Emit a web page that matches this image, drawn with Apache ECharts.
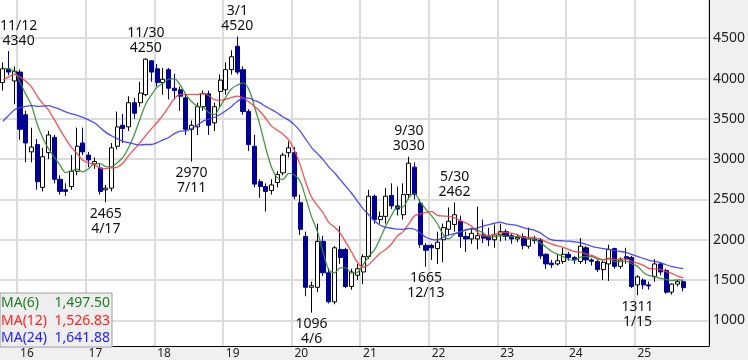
<!DOCTYPE html>
<html><head><meta charset="utf-8">
<script src="https://cdn.jsdelivr.net/npm/echarts@6/dist/echarts.min.js"></script>
<style>html,body{margin:0;padding:0;background:#f0f0f0}#c{width:748px;height:360px}</style>
</head><body><div id="c"></div>
<script>
// ---- data ----
const categories = [
'2015-10','2015-11','2015-12',
'2016-01','2016-02','2016-03','2016-04','2016-05','2016-06','2016-07','2016-08','2016-09','2016-10','2016-11','2016-12',
'2017-01','2017-02','2017-03','2017-04','2017-05','2017-06','2017-07','2017-08','2017-09','2017-10','2017-11','2017-12',
'2018-01','2018-02','2018-03','2018-04','2018-05','2018-06','2018-07','2018-08','2018-09','2018-10','2018-11','2018-12',
'2019-01','2019-02','2019-03','2019-04','2019-05','2019-06','2019-07','2019-08','2019-09','2019-10','2019-11','2019-12',
'2020-01','2020-02','2020-03','2020-04','2020-05','2020-06','2020-07','2020-08','2020-09','2020-10','2020-11','2020-12',
'2021-01','2021-02','2021-03','2021-04','2021-05','2021-06','2021-07','2021-08','2021-09','2021-10','2021-11','2021-12',
'2022-01','2022-02','2022-03','2022-04','2022-05','2022-06','2022-07','2022-08','2022-09','2022-10','2022-11','2022-12',
'2023-01','2023-02','2023-03','2023-04','2023-05','2023-06','2023-07','2023-08','2023-09','2023-10','2023-11','2023-12',
'2024-01','2024-02','2024-03','2024-04','2024-05','2024-06','2024-07','2024-08','2024-09','2024-10','2024-11','2024-12',
'2025-01','2025-02','2025-03','2025-04','2025-05','2025-06','2025-07','2025-08','2025-09','2025-10','2025-11','2025-12',
'2026-01'];
const yearLabels = ['16','17','18','19','20','21','22','23','24','25'];

// monthly closes before the first visible month (MA warm-up)
const preCloses = [2350,2460,2700,2800,2900,2950,3000,3150,3250,3200,3350,3410,
                   3600,3700,3750,3850,3980,4100,4150,4250,4200,4080,3980];

const opens = [3950,4120,3970,4080,3550,3090,3180,2650,3080,3270,
2750,2620,2660,2850,3200,3050,2940,2890,2620,2640,
3160,3420,3400,3700,3700,3800,4220,4120,3950,4110,
3880,3860,3760,3370,3400,3650,3810,3450,3840,3860,
4110,4400,4110,3590,3160,2720,2660,2610,2710,2830,
3080,3080,2460,2040,1410,1410,1980,1590,1230,1880,
1880,1420,1560,1600,1790,2540,2250,2290,2550,2420,
2310,2560,2900,2450,1930,1930,1890,2000,2130,2190,
2230,2040,2010,2010,2060,2040,2000,2060,2100,2050,
2010,2040,1920,2010,2000,1820,1710,1700,1730,1820,
1780,1730,1900,1750,1730,1630,1700,1890,1670,1790,
1780,1440,1500,1440,1540,1700,1620,1350,1450,1480];

const closes = [4120,4080,4090,3370,3200,3150,2720,3030,3300,2750,
2600,2600,2850,3160,3090,2990,2970,2600,2640,3140,
3400,3380,3700,3570,3820,4240,4080,3950,3990,3880,
3850,3780,3370,3420,3650,3810,3420,3650,3980,4110,
4270,4080,3590,3180,2690,2660,2600,2680,2810,3050,
3140,2540,2130,1410,1430,1980,1590,1230,1900,1780,
1420,1600,1640,1790,2540,2250,2290,2540,2420,2380,
2560,2950,2560,1940,1870,1900,1970,2150,2230,2310,
2040,2010,2080,2050,2020,2000,2060,2100,2040,2010,
2030,1930,2010,1990,1800,1700,1690,1740,1820,1780,
1750,1920,1750,1733,1630,1720,1880,1670,1750,1760,
1420,1540,1440,1427,1700,1600,1350,1450,1480,1405];

const highs = [4200,4340,4150,4110,3600,3390,3250,3140,3350,3300,
2800,2700,3050,3390,3390,3090,3020,2950,2680,3200,
3590,3560,3780,3760,3960,4250,4230,4180,4130,4130,
4060,3900,3800,3480,3700,3850,3850,3700,4050,4200,
4350,4520,4150,3620,3300,2750,2700,2750,2850,3080,
3220,3150,2560,2100,1480,2200,2050,1650,1920,2170,
1900,1640,1700,1820,2620,2560,2350,2640,2700,2660,
2700,3030,2960,2500,1960,1950,2100,2200,2400,2462,
2300,2100,2150,2410,2250,2150,2190,2200,2130,2080,
2070,2080,2150,2050,2020,1830,1750,1820,1900,1850,
1800,2020,1920,1770,1750,1740,1940,1900,1780,1900,
1800,1560,1520,1480,1760,1720,1640,1460,1500,1500];

const lows = [3850,4040,3680,3240,2960,2960,2620,2600,3000,2700,
2560,2540,2620,2800,3050,2900,2880,2560,2465,2600,
3120,3200,3350,3500,3650,3780,3960,3900,3800,3740,
3740,3600,3300,2970,3300,3600,3300,3350,3650,3800,
4050,4050,3550,3100,2650,2520,2350,2560,2650,2800,
3020,2500,2060,1300,1096,1350,1550,1210,1200,1700,
1400,1380,1500,1450,1760,2200,2200,2200,2380,2300,
2250,2500,2500,1900,1665,1750,1700,1720,2050,2100,
1900,1850,1950,1880,1960,1920,1900,1980,1990,1950,
1970,1880,1890,1950,1760,1640,1650,1680,1700,1740,
1700,1700,1700,1680,1600,1500,1490,1640,1640,1700,
1400,1311,1390,1380,1480,1560,1330,1320,1420,1360];

// annotated extremes
const hiMonths = ['2015-11','2017-11','2019-03','2021-09','2022-05'];
const hiDates  = ['11/12','11/30','3/1','9/30','5/30'];
const hiValues = [4340,4250,4520,3030,2462];
const loMonths = ['2017-04','2018-07','2020-04','2021-12','2025-01'];
const loDates  = ['4/17','7/11','4/6','12/13','1/15'];
const loValues = [2465,2970,1096,1665,1311];

const maPeriods = [6,12,24];
const maColors = ['#2f8f2f','#ff3b3b','#3a3aff'];
const maTextColors = ['#1f7f1f','#ff1f1f','#1f1fff'];

// ---- build ----
const allCloses = preCloses.concat(closes);
function movingAvg(p){
  return closes.map((_, i) => {
    const e = preCloses.length + i; let s = 0;
    for (let j = e - p + 1; j <= e; j++) s += allCloses[j];
    return s / p;
  });
}
const mas = maPeriods.map(movingAvg);
const candle = opens.map((o, i) => [o, closes[i], lows[i], highs[i]]);

const FONT = "'Noto Sans', 'DejaVu Sans', sans-serif";
const labelBase = {show: true, color: '#111', fontSize: 14, fontFamily: FONT, lineHeight: 15};

function markData(offsets){
  const d = [];
  hiMonths.forEach((m, i) => d.push({coord: [m, hiValues[i]],
    label: Object.assign({}, labelBase, {position: 'top', distance: 3,
      formatter: hiDates[i] + '\n' + hiValues[i], offset: offsets ? offsets[i] : [0,0]})}));
  loMonths.forEach((m, i) => d.push({coord: [m, loValues[i]],
    label: Object.assign({}, labelBase, {position: 'bottom', distance: 4,
      formatter: loValues[i] + '\n' + loDates[i], offset: offsets ? offsets[hiMonths.length + i] : [0,0]})}));
  return d;
}

const fmt = v => v.toLocaleString('en-US', {minimumFractionDigits: 2, maximumFractionDigits: 2});
const legendChildren = [{type: 'rect', z: 100, shape: {x: 0, y: 293, width: 112, height: 54},
  style: {fill: '#eeeeee', stroke: '#a0a0a0', lineWidth: 1}}];
maPeriods.forEach((p, i) => {
  const y = 303.5 + i * 17.2;
  legendChildren.push({type: 'text', z: 101, x: 1, y: y, style: {text: 'MA(' + p + ')', fill: maTextColors[i],
    font: '14px ' + FONT, textAlign: 'left', textVerticalAlign: 'middle'}});
  legendChildren.push({type: 'text', z: 101, x: 110, y: y, style: {text: fmt(mas[i][mas[i].length - 1]), fill: maTextColors[i],
    font: '14px ' + FONT, textAlign: 'right', textVerticalAlign: 'middle'}});
});

const chart = echarts.init(document.getElementById('c'));
const isYearStart = (idx, v) => yearLabels.indexOf(String(v).slice(2, 4)) >= 0 && String(v).endsWith('-01');
const option = {
  animation: false,
  backgroundColor: '#f0f0f0',
  grid: {left: 0, right: 39, top: 0, bottom: 13, show: true, backgroundColor: '#ffffff', borderWidth: 0},
  xAxis: {
    type: 'category', data: categories, boundaryGap: true,
    axisLine: {show: true, lineStyle: {color: '#000', width: 1}},
    axisTick: {show: false},
    axisLabel: {interval: isYearStart, formatter: v => v.slice(2, 4), align: 'left', margin: 2,
      color: '#222', fontSize: 12, fontFamily: FONT},
    splitLine: {show: true, interval: isYearStart, lineStyle: {color: '#dcdcdc', width: 2}}
  },
  yAxis: {
    type: 'value', position: 'right', min: 682, max: 4974, minInterval: 500, maxInterval: 500, scale: true,
    axisLine: {show: true, lineStyle: {color: '#000', width: 1}},
    axisTick: {show: false},
    axisLabel: {margin: 4, color: '#222', fontSize: 14, fontFamily: FONT, showMinLabel: false, showMaxLabel: false,
      formatter: v => String(v)},
    splitLine: {show: true, showMinLine: false, showMaxLine: false, lineStyle: {color: '#dcdcdc', width: 2}}
  },
  series: [
    {type: 'candlestick', data: candle, barWidth: 4.6,
     itemStyle: {color: '#ffffff', color0: '#000096', borderColor: '#000000', borderColor0: '#000096', borderWidth: 1},
     markPoint: {symbol: 'circle', symbolSize: 0, itemStyle: {color: 'rgba(0,0,0,0)'}, data: markData(null)}},
  ].concat(maPeriods.map((p, i) => ({type: 'line', name: 'MA(' + p + ')', data: mas[i], showSymbol: false,
     smooth: 0.3, lineStyle: {color: maColors[i], width: 1.3, opacity: 0.9}, z: 3}))),
  graphic: legendChildren
};
chart.setOption(option);

// keep annotation labels inside the plot horizontally
const ctx = document.createElement('canvas').getContext('2d');
ctx.font = '14px ' + FONT;
const offsets = [];
hiMonths.concat(loMonths).forEach((m, i) => {
  const isHi = i < hiMonths.length;
  const idx = isHi ? i : i - hiMonths.length;
  const val = isHi ? hiValues[idx] : loValues[idx];
  const txt = isHi ? [hiDates[idx], String(val)] : [String(val), loDates[idx]];
  const w = Math.max(...txt.map(t => ctx.measureText(t).width));
  const px = chart.convertToPixel({gridIndex: 0}, [m, val])[0];
  let dx = 0;
  if (px - w / 2 < 0) dx = w / 2 - px;
  if (px + w / 2 > 709) dx = 709 - w / 2 - px;
  offsets.push([dx, 0]);
});
chart.setOption({series: [{markPoint: {data: markData(offsets)}}]});
</script></body></html>
